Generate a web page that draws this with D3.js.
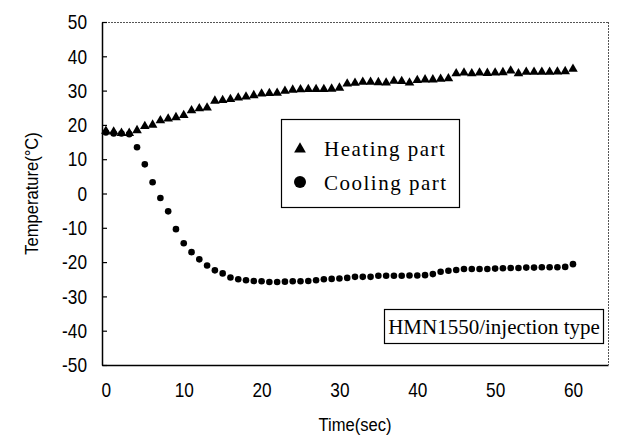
<!DOCTYPE html>
<html><head><meta charset="utf-8">
<script src="https://cdn.jsdelivr.net/npm/d3@7"></script>
<style>body{margin:0;background:#fff}svg{display:block}</style>
</head><body>
<script>
const times = [0,1,2,3,4,5,6,7,8,9,10,11,12,13,14,15,16,17,18,19,20,21,22,23,24,25,26,27,28,29,30,31,32,33,34,35,36,37,38,39,40,41,42,43,44,45,46,47,48,49,50,51,52,53,54,55,56,57,58,59,60];
const heating = [18.2,18.0,17.6,17.6,18.4,19.6,20.0,21.3,21.8,22.2,22.8,24.2,24.8,25.0,27.0,27.2,27.5,27.9,28.2,28.6,29.1,29.2,29.3,29.9,30.2,30.3,30.4,30.4,30.4,30.5,30.8,32.0,32.2,32.5,32.5,32.4,32.3,32.8,32.7,32.3,33.0,33.2,33.2,33.4,33.5,35.0,35.2,35.0,35.2,35.1,35.2,35.3,35.8,35.0,35.4,35.4,35.4,35.4,35.5,35.6,36.3];
const cooling = [17.8,17.5,17.5,17.3,13.5,8.5,3.3,-1.3,-5.2,-10.4,-14.5,-17.1,-19.2,-21.0,-22.4,-23.3,-24.5,-25.0,-25.3,-25.5,-25.6,-25.8,-25.8,-25.7,-25.6,-25.6,-25.5,-25.3,-25.0,-24.9,-24.8,-24.6,-24.3,-24.3,-24.3,-24.0,-24.0,-24.0,-24.0,-23.9,-23.9,-23.8,-23.5,-22.8,-22.5,-22.3,-22.0,-22.0,-22.0,-22.0,-21.9,-21.8,-21.7,-21.7,-21.6,-21.6,-21.5,-21.5,-21.5,-21.4,-20.6];
const xTicks = [0,10,20,30,40,50,60];
const yTicks = [-50,-40,-30,-20,-10,0,10,20,30,40,50];
const seriesNames = ["Heating part","Cooling part"];
const note = "HMN1550/injection type";
const xTitle = "Time(sec)";
const yTitle = "Temperature(\u00B0C)";

const W = 627, H = 444;
const L = 102, R = 608, T = 22, B = 365;
const svg = d3.select("body").append("svg").attr("width", W).attr("height", H);
const x = d3.scaleLinear().domain([-0.5, 64.5]).range([L, R]);
const y = d3.scaleLinear().domain([-50, 50]).range([B, T]);
const axisFont = "'Liberation Sans','DejaVu Sans',sans-serif";
const serif = "'Liberation Serif','DejaVu Serif',serif";

function narrow(sel, f) {
  sel.each(function() {
    const w = this.getComputedTextLength();
    d3.select(this).attr("textLength", w * f).attr("lengthAdjust", "spacingAndGlyphs");
  });
}

// frame: top & right dotted
svg.append("line").attr("x1", L).attr("x2", R).attr("y1", T + 0.5).attr("y2", T + 0.5)
  .attr("stroke", "#555").attr("stroke-width", 1).attr("stroke-dasharray", "2,1");
svg.append("line").attr("x1", R + 0.5).attr("x2", R + 0.5).attr("y1", T).attr("y2", B)
  .attr("stroke", "#555").attr("stroke-width", 1).attr("stroke-dasharray", "2,1");

const yAxis = svg.append("g").attr("transform", `translate(${L},0)`)
  .call(d3.axisLeft(y).tickValues(yTicks).tickSizeInner(-5).tickSizeOuter(0).tickPadding(15)
    .tickFormat(d => String(d)));
yAxis.select(".domain").attr("stroke", "#000").attr("stroke-width", 1.5);
yAxis.selectAll(".tick line").attr("stroke", "#000").attr("stroke-width", 1.2);
yAxis.selectAll("text").attr("font-family", axisFont).attr("font-size", 21).attr("fill", "#000").call(narrow, 0.82);

const xAxis = svg.append("g").attr("transform", `translate(0,${B})`)
  .call(d3.axisBottom(x).tickValues(xTicks).tickSize(0).tickPadding(17));
xAxis.select(".domain").attr("stroke", "#000").attr("stroke-width", 1.5);
xAxis.selectAll("text").attr("font-family", axisFont).attr("font-size", 21).attr("fill", "#000").call(narrow, 0.82);

// axis titles
svg.append("text").attr("x", 355).attr("y", 431).attr("text-anchor", "middle")
  .attr("font-family", axisFont).attr("font-size", 18).text(xTitle).call(narrow, 0.92);
svg.append("text").attr("transform", `translate(38,${(T + B) / 2}) rotate(-90)`).attr("text-anchor", "middle")
  .attr("font-family", axisFont).attr("font-size", 18).text(yTitle).call(narrow, 0.92);

const tri = d3.symbol().type(d3.symbolTriangle).size(40);
const data = times.map((t, i) => ({t, h: heating[i], c: cooling[i]}));

svg.append("g").selectAll("circle").data(data).join("circle")
  .attr("cx", d => x(d.t)).attr("cy", d => y(d.c)).attr("r", 3.3).attr("fill", "#000");
svg.append("g").selectAll("path").data(data).join("path")
  .attr("d", tri).attr("transform", d => `translate(${x(d.t)},${y(d.h)})`).attr("fill", "#000");

// legend
const lg = svg.append("g");
lg.append("rect").attr("x", 281.5).attr("y", 119.5).attr("width", 178).attr("height", 88)
  .attr("fill", "#fff").attr("stroke", "#000").attr("stroke-width", 1.2);
lg.append("path").attr("d", d3.symbol().type(d3.symbolTriangle).size(60)())
  .attr("transform", "translate(300,149)").attr("fill", "#000");
lg.append("circle").attr("cx", 300).attr("cy", 182).attr("r", 6).attr("fill", "#000");
lg.append("text").attr("x", 324).attr("y", 156).attr("font-family", serif).attr("font-size", 21)
  .attr("letter-spacing", 1.5).text(seriesNames[0]);
lg.append("text").attr("x", 324).attr("y", 190).attr("font-family", serif).attr("font-size", 21)
  .attr("letter-spacing", 1.5).text(seriesNames[1]);

// note box
const nb = svg.append("g");
nb.append("rect").attr("x", 384.5).attr("y", 309.5).attr("width", 219).attr("height", 34)
  .attr("fill", "#fff").attr("stroke", "#000").attr("stroke-width", 1.2);
nb.append("text").attr("x", 494).attr("y", 334).attr("text-anchor", "middle")
  .attr("font-family", serif).attr("font-size", 21).text(note);
</script>
</body></html>
